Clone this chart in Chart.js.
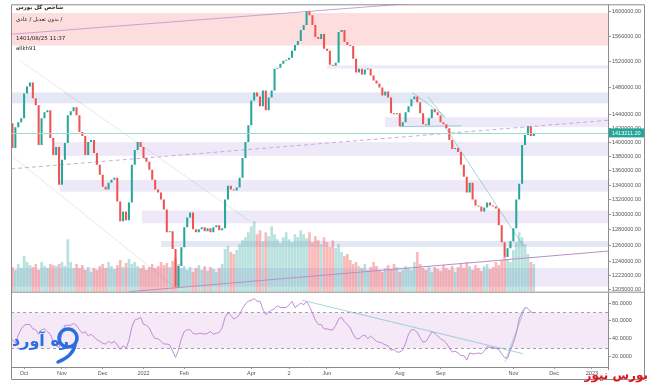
<!DOCTYPE html>
<html>
<head>
<meta charset="utf-8">
<script src="https://cdn.jsdelivr.net/npm/chart.js@4.4.0/dist/chart.umd.min.js"></script>
<style>
  body { margin: 0; width: 653px; height: 386px; background: #fff; overflow: hidden; position: relative; }
  canvas { position: absolute; left: 0; }
  #main { top: 0; }
  #rsi { top: 293px; }
  .hdr { position: absolute; left: 16px; font: 5.5px "DejaVu Sans", sans-serif; color: #222; white-space: nowrap; z-index: 2; }
  .b { font-weight: bold; }
  #rah { position: absolute; left: 12px; top: 331px; font: bold 16px "DejaVu Sans", sans-serif; color: #2a6ee0; z-index: 2; direction: rtl; }
  #pin { position: absolute; left: 52px; top: 324px; z-index: 2; }
  #bn { position: absolute; right: 5px; top: 368px; font: bold 12px "DejaVu Sans", sans-serif; color: #e3131b; z-index: 2; direction: rtl; }
</style>
</head>
<body>
<canvas id="main" width="653" height="296"></canvas>
<canvas id="rsi" width="653" height="93"></canvas>
<div class="hdr b" style="top:4px" dir="rtl">شاخص کل بورس</div>
<div class="hdr" style="top:16px" dir="rtl">/ بدون تعدیل / عادی</div>
<div class="hdr" style="top:35px">1401/08/25 11:37</div>
<div class="hdr" style="top:45px">allkh91</div>
<div id="rah">ره آورد</div>
<svg id="pin" width="30" height="42" viewBox="0 0 30 42">
  <circle cx="16" cy="14" r="9" fill="none" stroke="#2a6ee0" stroke-width="3.5"/>
  <path d="M23 21 Q21 32 6 38" fill="none" stroke="#2a6ee0" stroke-width="3.5" stroke-linecap="round"/>
</svg>
<div id="bn">بورس نیوز</div>
<script>
// ticks and labels
const priceTicks = [1600000, 1560000, 1520000, 1480000, 1440000, 1420000, 1400000, 1380000, 1360000,
  1340000, 1320000, 1300000, 1280000, 1260000, 1240000, 1222000, 1205000];
const rsiTicks = [20, 40, 60, 80];
const monthIdx = [4, 17, 31, 45, 59, 82, 95, 108, 133, 147, 172, 186, 199];
const monthLabels = ['Oct', 'Nov', 'Dec', '2022', 'Feb', 'Apr', '2', 'Jun', 'Aug', 'Sep', 'Nov', 'Dec', '2023'];

// daily index closes (open of a candle = previous close)
const firstOpen = 1427300;
const closes = [
  1391700, 1421500, 1428700, 1434500, 1471300, 1481700, 1487800, 1463900, 1453500, 1395900,
  1434500, 1443300, 1446200, 1405800, 1381800, 1393100, 1340500, 1374900, 1398700, 1438900,
  1444700, 1450600, 1438900, 1414400, 1408700, 1381800, 1400100, 1403000, 1384600, 1367900,
  1354100, 1337800, 1333800, 1343200, 1347300, 1350000, 1317700, 1291300, 1304400, 1292600,
  1316300, 1367900, 1388800, 1400100, 1393100, 1377600, 1372100, 1361000, 1347300, 1333800,
  1329700, 1320300, 1307000, 1277000, 1278300, 1255200, 1207900, 1233800, 1257700, 1283400,
  1296500, 1303100, 1280900, 1277000, 1280900, 1283400, 1278300, 1282100, 1277000, 1283400,
  1286000, 1279600, 1282100, 1320300, 1339200, 1333800, 1332500, 1336500, 1350000, 1377600,
  1400100, 1424400, 1460900, 1472800, 1466800, 1452100, 1475800, 1446200, 1465300, 1475800,
  1509000, 1510500, 1516600, 1521300, 1522800, 1525900, 1536700, 1545900, 1552200, 1569600,
  1577500, 1600000, 1593600, 1577500, 1558500, 1555300, 1563200, 1539800, 1536700, 1515100,
  1513600, 1518200, 1566400, 1569600, 1550600, 1545900, 1544400, 1524300, 1502900, 1509000,
  1499900, 1507500, 1509000, 1498300, 1490800, 1486300, 1480300, 1468300, 1474300, 1465300,
  1441800, 1440400, 1441800, 1423000, 1428700, 1443300, 1452100, 1462400, 1466800, 1458000,
  1441800, 1425900, 1424400, 1434500, 1447700, 1443300, 1438900, 1428700, 1425900, 1420100,
  1403000, 1390200, 1391500, 1386000, 1367900, 1351400, 1329700, 1343200, 1320300, 1312300,
  1310900, 1304400, 1309700, 1316300, 1312300, 1311000, 1308400, 1286000, 1264100, 1245100,
  1256400, 1265400, 1282100, 1320300, 1341900, 1395900, 1410100, 1423000, 1408700, 1413211.2
];
const volumes = [
  25, 22, 28, 24, 36, 30, 27, 25, 28, 22, 30, 26, 24, 28, 27, 26, 28, 30, 26, 53,
  30, 24, 28, 24, 27, 22, 25, 20, 24, 22, 26, 28, 24, 30, 26, 23, 27, 32, 25, 29,
  33, 28, 30, 26, 24, 27, 22, 25, 28, 24, 26, 30, 27, 29, 25, 31, 34, 28, 24, 26,
  22, 25, 20, 24, 27, 22, 26, 21, 25, 23, 20, 24, 28, 43, 46, 40, 38, 42, 48, 52,
  55, 60, 66, 71, 58, 62, 51, 60, 56, 66, 58, 53, 49, 55, 60, 53, 50, 58, 55, 62,
  58, 54, 60, 50, 56, 52, 48, 55, 50, 45, 52, 44, 48, 40, 36, 38, 32, 28, 30, 26,
  24, 28, 22, 25, 30, 26, 22, 20, 24, 27, 23, 28, 25, 20, 22, 26, 24, 22, 30, 40,
  28, 24, 22, 26, 20, 25, 23, 21, 27, 24, 22, 26, 20, 25, 28, 24, 30, 26, 22, 27,
  24, 21, 26, 28, 23, 25, 30, 27, 32, 35, 33, 30, 42, 50, 60, 55, 48, 38, 30, 28
];
const rsi = [
  39, 35, 44, 51, 55, 56, 56, 51, 50, 45, 50, 51, 48, 45, 37, 32, 30, 45, 55, 55,
  55, 57, 55, 50, 46, 48, 43, 45, 42, 39, 37, 35, 34, 37, 35, 37, 33, 28, 32, 29,
  38, 53, 61, 62, 64, 56, 55, 52, 45, 40, 40, 37, 34, 34, 33, 26, 19, 27, 40, 48,
  50, 50, 46, 45, 46, 46, 45, 46, 48, 45, 46, 47, 52, 64, 69, 66, 62, 64, 67, 74,
  79, 82, 83, 85, 82, 82, 73, 67, 70, 72, 74, 77, 75, 75, 75, 78, 82, 75, 77, 80,
  78, 82, 76, 69, 61, 56, 56, 51, 51, 50, 50, 55, 62, 64, 59, 56, 52, 45, 40, 40,
  43, 44, 40, 43, 40, 37, 36, 35, 33, 32, 27, 28, 25, 25, 27, 35, 45, 50, 50, 47,
  41, 36, 37, 42, 48, 46, 43, 40, 38, 35, 30, 25, 26, 24, 21, 21, 16, 24, 23, 23,
  24, 23, 26, 31, 30, 30, 29, 28, 23, 19, 18, 27, 35, 46, 62, 70, 75, 74, 70, 69
];
const rsiUpper = 70;
const rsiLower = 30;

// support / resistance zones: left edge (bar index), low, high, kind
const zoneStart = [-0.5, 108, -0.5, 127.9, 13.9, 16.3, 44.5, 51, -0.5];
const zoneLow = [1545000, 1509000, 1456500, 1421500, 1380500, 1331000, 1288700, 1258000, 1208000];
const zoneHigh = [1597000, 1514000, 1472700, 1436000, 1400000, 1347000, 1305600, 1265600, 1231400];
const zoneKind = ['pink', 'lav', 'blue', 'lav', 'lav', 'lav', 'lav', 'blue', 'lav'];

// drawn trend lines [bar index, value]
const purpleTop = [[0, 1563000], [204, 1637600]];
const purpleDash = [[-0.5, 1362300], [204.5, 1431600]];
const purpleLow = [[40, 1201800], [204.5, 1252700]];
const grayA = [[2.6, 1521300], [81.6, 1291300]];
const grayB = [[0.2, 1379000], [56.5, 1205400]];
const tealA = [[137.2, 1472700], [148.5, 1437500]];
const tealB = [[142.7, 1466200], [148.5, 1434500]];
const tealC = [[148.5, 1422000], [175.4, 1259400]];
const tealFlat = [[133.1, 1422300], [154.3, 1423500]];
const rsiLineA = [[99.4, 83.2], [175.3, 23.2]];
const rsiLineB = [[169.1, 13.6], [176, 74.6]];

const UP = '#26a69a', DOWN = '#ef5350';
const ZONE_COLORS = { pink: '#fddddd', lav: '#eee9f8', blue: '#e4e8f5' };
const TEAL = 'rgba(38,166,154,0.42)';
const FRAME = '#8c8c8c';
const tickFont = { family: 'Liberation Sans', size: 5.5 };

const candles = closes.map((c, i) => ({ x: i, y: [i === 0 ? firstOpen : closes[i - 1], c] }));
const isUp = candles.map(d => d.y[1] >= d.y[0]);
const lastPrice = closes[closes.length - 1];

const seg = (pts, color, dash, width) => ({
  type: 'line',
  data: pts.map(p => ({ x: p[0], y: p[1] })),
  yAxisID: 'y',
  borderColor: color,
  borderWidth: width || 1,
  borderDash: dash || [],
  pointRadius: 0,
  order: 1
});

const zonesPlugin = {
  id: 'zones',
  beforeDatasetsDraw(chart) {
    const { ctx, chartArea: a, scales: { x, y } } = chart;
    ctx.save();
    zoneStart.forEach((s, k) => {
      const x0 = Math.max(a.left, x.getPixelForValue(s));
      const y0 = y.getPixelForValue(zoneHigh[k]);
      const y1 = y.getPixelForValue(zoneLow[k]);
      ctx.fillStyle = ZONE_COLORS[zoneKind[k]];
      ctx.fillRect(x0, y0, a.right - x0, y1 - y0);
    });
    ctx.restore();
  },
  afterDatasetsDraw(chart) {
    const { ctx, chartArea: a, scales: { y } } = chart;
    const py = Math.round(y.getPixelForValue(lastPrice)) + 0.5;
    ctx.save();
    ctx.strokeStyle = '#a3d9d2';
    ctx.lineWidth = 1;
    ctx.beginPath();
    ctx.moveTo(a.left, py);
    ctx.lineTo(a.right, py);
    ctx.stroke();
    ctx.restore();
  },
  afterDraw(chart) {
    const { ctx, chartArea: a, scales: { y } } = chart;
    const py = y.getPixelForValue(lastPrice);
    ctx.save();
    ctx.fillStyle = UP;
    ctx.fillRect(a.right + 1, py - 4.5, 35, 9);
    ctx.fillStyle = '#fff';
    ctx.font = '5.5px "Liberation Sans"';
    ctx.textBaseline = 'middle';
    ctx.fillText(lastPrice.toFixed(2), a.right + 4, py + 0.5);
    // frame
    const outer = chart.width - 8.5;
    ctx.strokeStyle = FRAME;
    ctx.lineWidth = 1;
    ctx.beginPath();
    ctx.moveTo(a.left + 0.5, chart.height); ctx.lineTo(a.left + 0.5, a.top + 0.5);
    ctx.lineTo(outer, a.top + 0.5); ctx.lineTo(outer, chart.height);
    ctx.moveTo(a.right + 0.5, a.top); ctx.lineTo(a.right + 0.5, a.bottom);
    ctx.moveTo(a.left, a.bottom + 0.5); ctx.lineTo(outer, a.bottom + 0.5);
    ctx.stroke();
    ctx.restore();
  }
};

new Chart(document.getElementById('main'), {
  type: 'bar',
  data: {
    datasets: [
      {
        data: candles, yAxisID: 'y', backgroundColor: isUp.map(u => u ? UP : DOWN),
        barPercentage: 0.7, categoryPercentage: 1, grouped: false, minBarLength: 1, order: 0
      },
      {
        data: volumes.map((v, i) => ({ x: i, y: v })), yAxisID: 'yv',
        backgroundColor: isUp.map(u => u ? 'rgba(38,166,154,0.32)' : 'rgba(239,83,80,0.4)'),
        barPercentage: 0.92, categoryPercentage: 1, grouped: false, order: 5
      },
      seg(purpleTop, '#c9a3cf'),
      seg(purpleDash, '#c6acdc', [4, 3]),
      seg(purpleLow, '#b98fc6'),
      seg(grayA, 'rgba(120,120,120,0.22)', [], 0.8),
      seg(grayB, 'rgba(120,120,120,0.22)', [], 0.8),
      seg(tealA, TEAL),
      seg(tealB, TEAL),
      seg(tealC, TEAL),
      seg(tealFlat, TEAL)
    ]
  },
  options: {
    responsive: false, animation: false, devicePixelRatio: 1, events: [],
    layout: { padding: { top: 3, left: 11, right: 8, bottom: 3 } },
    plugins: { legend: { display: false }, tooltip: { enabled: false } },
    scales: {
      x: { type: 'linear', min: -0.5, max: 204.5, offset: false, bounds: 'data', display: false, grid: { offset: false } },
      y: {
        type: 'logarithmic', position: 'right', min: 1201830, max: 1611366,
        afterBuildTicks: s => { s.ticks = priceTicks.map(v => ({ value: v })); },
        afterFit: s => { s.width = 37; },
        ticks: { font: tickFont, color: '#555', padding: 1, autoSkip: false, callback: v => Number(v).toFixed(2) },
        grid: { drawOnChartArea: false, tickLength: 3, color: '#999' },
        border: { display: false }
      },
      yv: { type: 'linear', display: false, min: 0, max: 290 }
    }
  },
  plugins: [zonesPlugin]
});

const rsiPlugin = {
  id: 'rsiBand',
  beforeDatasetsDraw(chart) {
    const { ctx, chartArea: a, scales: { y } } = chart;
    const yu = Math.round(y.getPixelForValue(rsiUpper)) + 0.5;
    const yl = Math.round(y.getPixelForValue(rsiLower)) + 0.5;
    ctx.save();
    ctx.fillStyle = '#f5e9f7';
    ctx.fillRect(a.left, yu, a.right - a.left, yl - yu);
    ctx.strokeStyle = '#ab9bb4';
    ctx.setLineDash([3, 3]);
    ctx.beginPath();
    ctx.moveTo(a.left, yu); ctx.lineTo(a.right, yu);
    ctx.moveTo(a.left, yl); ctx.lineTo(a.right, yl);
    ctx.stroke();
    ctx.restore();
  },
  afterDraw(chart) {
    const { ctx, chartArea: a } = chart;
    const outer = chart.width - 8.5;
    ctx.save();
    ctx.strokeStyle = FRAME;
    ctx.lineWidth = 1;
    ctx.beginPath();
    ctx.moveTo(a.left + 0.5, 0); ctx.lineTo(a.left + 0.5, 86.5); ctx.lineTo(outer, 86.5); ctx.lineTo(outer, 0);
    ctx.moveTo(a.right + 0.5, 0); ctx.lineTo(a.right + 0.5, a.bottom + 3);
    ctx.moveTo(a.left, a.bottom + 0.5); ctx.lineTo(a.right, a.bottom + 0.5);
    ctx.stroke();
    ctx.restore();
  }
};

new Chart(document.getElementById('rsi'), {
  type: 'line',
  data: {
    datasets: [
      { data: rsi.map((v, i) => ({ x: i, y: v })), borderColor: '#c289d6', borderWidth: 1, pointRadius: 0, order: 0 },
      seg(rsiLineA, TEAL),
      seg(rsiLineB, TEAL)
    ]
  },
  options: {
    responsive: false, animation: false, devicePixelRatio: 1, events: [],
    layout: { padding: { top: 1, left: 11, right: 8, bottom: 7 } },
    plugins: { legend: { display: false }, tooltip: { enabled: false } },
    scales: {
      x: {
        type: 'linear', min: -0.5, max: 204.5,
        afterBuildTicks: s => { s.ticks = monthIdx.map(v => ({ value: v })); },
        afterFit: s => { s.height = 12; },
        ticks: { font: tickFont, color: '#555', padding: 1, autoSkip: false, maxRotation: 0, callback: (v, i) => monthLabels[i] },
        grid: { drawOnChartArea: false, tickLength: 2, color: '#999' },
        border: { display: false }
      },
      y: {
        position: 'right', min: 8.21, max: 86.43,
        afterBuildTicks: s => { s.ticks = rsiTicks.map(v => ({ value: v })); },
        afterFit: s => { s.width = 37; },
        ticks: { font: tickFont, color: '#555', padding: 1, autoSkip: false, callback: v => Number(v).toFixed(4) },
        grid: { drawOnChartArea: false, tickLength: 3, color: '#999' },
        border: { display: false }
      }
    }
  },
  plugins: [rsiPlugin]
});
</script>
</body>
</html>
